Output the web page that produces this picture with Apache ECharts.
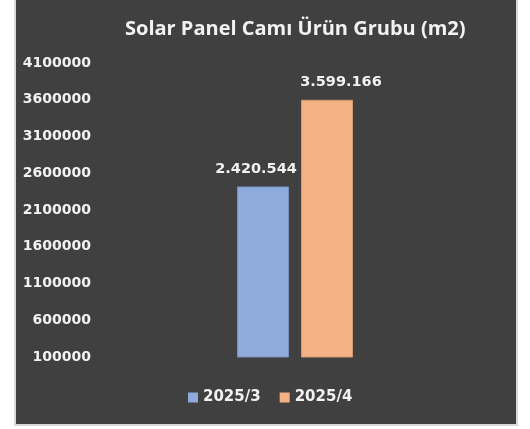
<!DOCTYPE html>
<html>
<head>
<meta charset="utf-8">
<script src="https://cdn.jsdelivr.net/npm/echarts@6/dist/echarts.min.js"></script>
<style>
  html, body { margin: 0; padding: 0; background: #fff; }
  #frame {
    position: absolute; left: 14px; top: -2px;
    border: 2px solid #d9d9d9;
  }
  #chart { width: 500px; height: 424px; }
</style>
</head>
<body>
<div id="frame"><div id="chart"></div></div>
<script>
const titleText = "Solar Panel Camı Ürün Grubu (m2)";
const categories = ["Solar Panel Camı"];
const seriesNames = ["2025/3", "2025/4"];
const values2025_3 = [2420544];
const values2025_4 = [3599166];
const barColors = ["#8faadc", "#f4b183"];
const textColor = "#f2f2f2";

// Türkçe biçim: 2.420.544
function trFormat(v) {
  return String(v).replace(/\B(?=(\d{3})+(?!\d))/g, ".");
}

let myChart = echarts.init(document.getElementById("chart"));
const labelStyle = {
  show: true,
  position: "top",
  distance: 10,
  color: textColor,
  fontFamily: "DejaVu Sans",
  fontWeight: "bold",
  fontSize: 14.5,
  formatter: (p) => trFormat(p.value)
};

var option = {
  backgroundColor: "#404040",
  animation: false,
  title: {
    text: titleText,
    left: 104,
    top: 14,
    textStyle: {
      color: textColor,
      fontFamily: "Open Sans",
      fontWeight: "bold",
      fontSize: 20
    }
  },
  legend: {
    data: seriesNames,
    bottom: 14,
    left: 167,
    itemWidth: 10,
    itemHeight: 10,
    itemGap: 19,
    icon: "rect",
    itemStyle: { borderWidth: 0 },
    textStyle: {
      color: textColor,
      fontFamily: "DejaVu Sans",
      fontWeight: "bold",
      fontSize: 15
    }
  },
  grid: { left: 83, right: 25, top: 63, bottom: 67 },
  xAxis: {
    type: "category",
    data: categories,
    axisLine: { show: false },
    axisTick: { show: false },
    axisLabel: { show: false }
  },
  yAxis: {
    type: "value",
    min: 100000,
    max: 4100000,
    interval: 500000,
    splitLine: { show: false },
    axisLine: { show: false },
    axisTick: { show: false },
    axisLabel: {
      color: textColor,
      fontFamily: "DejaVu Sans",
      fontWeight: "bold",
      fontSize: 14,
      margin: 8,
      formatter: (v) => String(v)
    }
  },
  series: [
    {
      name: seriesNames[0],
      type: "bar",
      data: values2025_3,
      barWidth: 52,
      barGap: "23%",
      itemStyle: { color: barColors[0], borderColor: "#7790bd", borderWidth: 1 },
      label: Object.assign({}, labelStyle, { offset: [-7, 0] })
    },
    {
      name: seriesNames[1],
      type: "bar",
      data: values2025_4,
      barWidth: 52,
      itemStyle: { color: barColors[1], borderColor: "#d49a70", borderWidth: 1 },
      label: Object.assign({}, labelStyle, { offset: [14, 0] })
    }
  ]
};
myChart.setOption(option);
</script>
</body>
</html>
